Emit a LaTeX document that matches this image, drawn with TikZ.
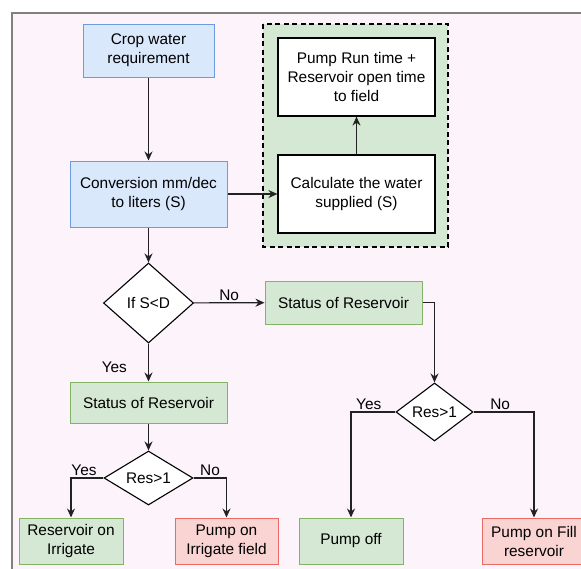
\documentclass[tikz,border=0pt]{standalone}
\usepackage{fontspec}
\setmainfont{Liberation Sans}
\usetikzlibrary{arrows.meta,shapes.geometric}
\definecolor{bgpink}{HTML}{FDF3FB}
\definecolor{blfill}{HTML}{DAE8FC}
\definecolor{bldraw}{HTML}{6C9BE0}
\definecolor{grfill}{HTML}{D5E8D4}
\definecolor{grdraw}{HTML}{82B366}
\definecolor{rdfill}{HTML}{FAD4D2}
\definecolor{rddraw}{HTML}{EA6B66}
\definecolor{linegray}{HTML}{222222}

\begin{document}
\begin{tikzpicture}[x=1pt,y=-1pt,
  box/.style={draw,line width=1pt,inner sep=0pt,align=center,
    font=\fontsize{15.4}{19}\selectfont},
  bluebox/.style={box,fill=blfill,draw=bldraw},
  greenbox/.style={box,fill=grfill,draw=grdraw},
  redbox/.style={box,fill=rdfill,draw=rddraw},
  whitebox/.style={box,fill=white,draw=black,line width=1.2pt},
  decision/.style={box,diamond,fill=white,draw=black,line width=1.1pt,aspect=1.6},
  flow/.style={-{Stealth[length=9pt,width=8pt]},line width=1.2pt,draw=linegray},
  lbl/.style={font=\fontsize{15.4}{19}\selectfont,inner sep=2pt}]
  \clip (0,0) rectangle (581,568);
  \fill[white] (0,0) rectangle (581,568);
  \fill[bgpink] (12,13) rectangle (590,580);
  \draw[gray,line width=1.2pt] (12,580) -- (12,13) -- (590,13);

  \draw[fill=grfill,dashed,line width=1.6pt,dash pattern=on 5pt off 3.5pt] (263,24) rectangle (448,247);

  \node[bluebox,minimum width=131,minimum height=53] (crop) at (148.5,50.5) {Crop water\\requirement};
  \node[bluebox,minimum width=157,minimum height=66] (conv) at (148.5,194) {Conversion mm/dec\\to liters (S)};
  \node[whitebox,minimum width=157,minimum height=78] (runtime) at (356.5,77) {Pump Run time +\\Reservoir open time\\to field};
  \node[whitebox,minimum width=157,minimum height=78] (calc) at (356.5,194) {Calculate the water\\supplied (S)};

  \node[decision,aspect=1,minimum width=90,minimum height=80] (ifsd) at (148.5,303) {If S<D};
  \node[greenbox,minimum width=157,minimum height=43] (statR) at (343.5,302.5) {Status of Reservoir};
  \node[greenbox,minimum width=157,minimum height=41] (statL) at (148.5,402.5) {Status of Reservoir};

  \node[decision,minimum width=89,minimum height=54] (resL) at (148.5,478) {Res>1};
  \node[decision,minimum width=77,minimum height=58] (resR) at (434.5,412) {Res>1};

  \node[greenbox,minimum width=104,minimum height=46] (resirr) at (71,541) {Reservoir on\\Irrigate};
  \node[redbox,minimum width=103,minimum height=46] (pumpirr) at (226.5,541) {Pump on\\Irrigate field};
  \node[greenbox,minimum width=104,minimum height=46] (pumpoff) at (351,541) {Pump off};
  \node[redbox,minimum width=104,minimum height=46] (pumpfill) at (534,541) {Pump on Fill\\reservoir};

  \draw[flow] (crop) -- (conv);
  \draw[flow] (conv) -- (calc);
  \draw[flow] (calc) -- (runtime);
  \draw[flow] (conv) -- (ifsd);
  \draw[flow] (ifsd) -- node[lbl,above] {No} (statR);
  \draw[flow] (ifsd) -- node[lbl,left,pos=0.62,xshift=-19pt] {Yes} (statL);
  \draw[flow] (statL) -- (resL);
  \draw[flow] (resL.west) -| node[lbl,above,pos=0.3] {Yes} (resirr.north);
  \draw[flow] (resL.east) -| node[lbl,above,pos=0.25] {No} (pumpirr.north);
  \draw[flow] (statR.east) -| (resR.north);
  \draw[flow] (resR.west) -| node[lbl,above,pos=0.3] {Yes} (pumpoff.north);
  \draw[flow] (resR.east) -| node[lbl,above,pos=0.22] {No} (pumpfill.north);
\end{tikzpicture}
\end{document}
